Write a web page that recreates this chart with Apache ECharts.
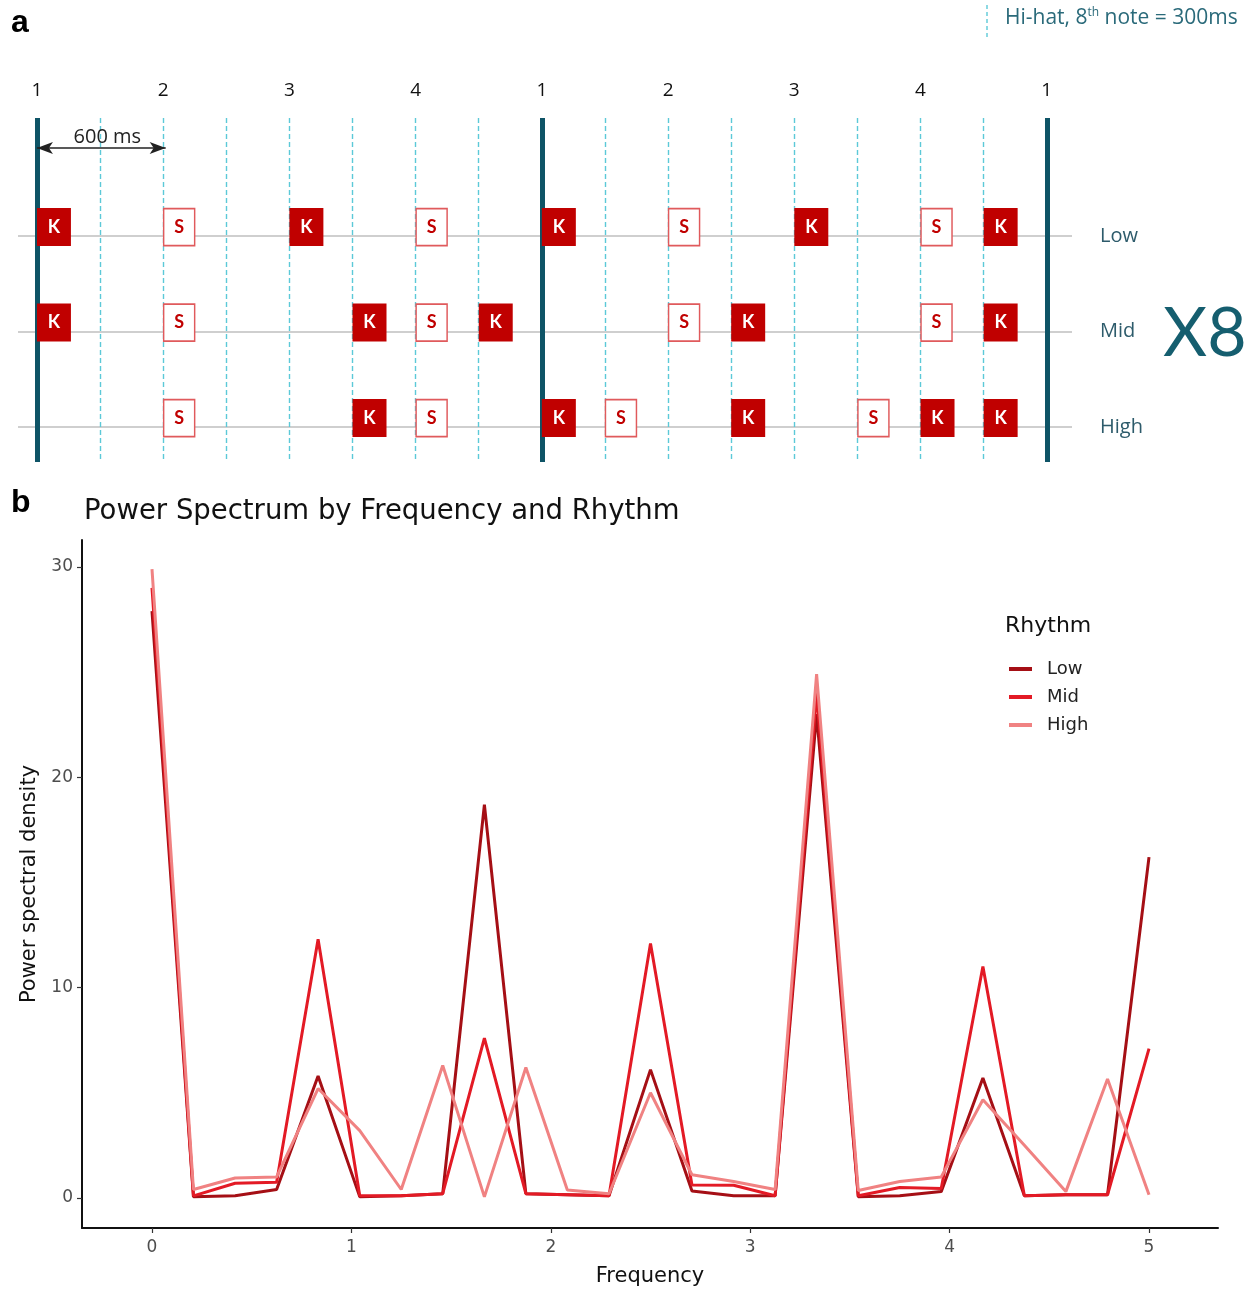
<!DOCTYPE html>
<html>
<head>
<meta charset="utf-8">
<script src="https://cdn.jsdelivr.net/npm/echarts@6/dist/echarts.min.js"></script>
<style>
  html, body { margin: 0; padding: 0; background: #ffffff; }
  #chart { width: 1253px; height: 1289px; }
</style>
</head>
<body>
<div id="chart"></div>
<script>
// ---------- Panel a : rhythm patterns ----------
const rows = ['Low', 'Mid', 'High'];
const beatPositions = [0, 2, 4, 6, 8, 10, 12, 14, 16];
const beatLabels = ['1', '2', '3', '4', '1', '2', '3', '4', '1'];
const hihatEighths = [1, 2, 3, 4, 5, 6, 7, 9, 10, 11, 12, 13, 14, 15];
const barlines = [0, 8, 16];
const lowKicks = [0, 4, 8, 12, 15];
const lowSnares = [2, 6, 10, 14];
const midKicks = [0, 5, 7, 11, 15];
const midSnares = [2, 6, 10, 14];
const highKicks = [5, 8, 11, 14, 15];
const highSnares = [2, 6, 9, 13];

// ---------- Panel b : power spectrum ----------
const frequencies = [0, 0.208, 0.417, 0.625, 0.833, 1.042, 1.25, 1.458, 1.667, 1.875, 2.083, 2.292, 2.5,
  2.708, 2.917, 3.125, 3.333, 3.542, 3.75, 3.958, 4.167, 4.375, 4.583, 4.792, 5];
const psdLow = [27.9, 0.05, 0.1, 0.4, 5.8, 0.05, 0.1, 0.2, 18.7, 0.2, 0.15, 0.1, 6.1,
  0.33, 0.1, 0.1, 23.0, 0.05, 0.1, 0.3, 5.7, 0.1, 0.15, 0.15, 16.2];
const psdMid = [29.0, 0.1, 0.7, 0.75, 12.3, 0.1, 0.1, 0.2, 7.6, 0.2, 0.15, 0.1, 12.1,
  0.62, 0.6, 0.1, 24.0, 0.1, 0.5, 0.45, 11.0, 0.1, 0.15, 0.15, 7.1];
const psdHigh = [29.9, 0.4, 0.95, 1.0, 5.2, 3.2, 0.4, 6.3, 0.05, 6.2, 0.38, 0.2, 5.0,
  1.1, 0.78, 0.4, 24.9, 0.35, 0.78, 1.0, 4.67, 2.5, 0.3, 5.65, 0.15];
const yTicks = [0, 10, 20, 30];
const xTicks = [0, 1, 2, 3, 4, 5];

const rhythmNames = ['Low', 'Mid', 'High'];
const rhythmColors = ['#a50f15', '#e31a25', '#f08282'];

// ---------- build ----------
const kickData = [].concat(
  lowKicks.map(x => [x, 0]), midKicks.map(x => [x, 1]), highKicks.map(x => [x, 2]));
const snareData = [].concat(
  lowSnares.map(x => [x, 0]), midSnares.map(x => [x, 1]), highSnares.map(x => [x, 2]));

const teal = '#0e5466';
const markData = [];
rows.forEach((r, i) => markData.push({ yAxis: i, lineStyle: { color: '#cfcfcf', width: 2, type: 'solid' } }));
hihatEighths.forEach(x => markData.push({ xAxis: x, lineStyle: { color: '#5cc9d8', width: 1.4, type: [5, 3] } }));
barlines.forEach(x => markData.push({ xAxis: x, lineStyle: { color: teal, width: 5, type: 'solid' } }));
markData.push([
  { coord: [0, -0.922], symbol: 'arrow', symbolSize: [9, 16],
    lineStyle: { color: '#222', width: 1.5, type: 'solid' },
    label: { show: true, formatter: '600 ms', position: 'middle', fontSize: 20,
      fontFamily: 'Open Sans', color: '#222', distance: 1, offset: [6, 0] } },
  { coord: [2.04, -0.922], symbol: 'arrow', symbolSize: [9, 16] }
]);

const rhythmData = [psdLow, psdMid, psdHigh];
const lineSeries = rhythmNames.map((n, k) => ({
  name: n, type: 'line', xAxisIndex: 1, yAxisIndex: 1,
  data: frequencies.map((f, i) => [f, rhythmData[k][i]]),
  symbol: 'none', showSymbol: false,
  lineStyle: { width: 3, color: rhythmColors[k] },
  itemStyle: { color: rhythmColors[k] },
  z: 2 + k
}));

const sans = 'DejaVu Sans';
const option = {
  animation: false,
  backgroundColor: '#ffffff',
  title: {
    text: 'Power Spectrum by Frequency and Rhythm',
    left: 79, top: 493,
    textStyle: { fontFamily: sans, fontWeight: 'normal', fontSize: 27.5, color: '#111' }
  },
  legend: {
    data: rhythmNames, orient: 'vertical', left: 1004, top: 655,
    icon: 'rect', itemWidth: 23, itemHeight: 4, itemGap: 10,
    textStyle: { fontFamily: sans, fontSize: 18, color: '#222', padding: [0, 0, 0, 10] },
    selectedMode: false
  },
  grid: [
    { left: 18, right: 181, top: 118, bottom: 827, outerBoundsMode: 'none' },
    { left: 82, right: 35, top: 540, bottom: 61, outerBoundsMode: 'none' }
  ],
  xAxis: [
    {
      gridIndex: 0, type: 'value', position: 'top', min: -0.3, max: 16.4,
      axisLine: { show: false }, axisTick: { show: false }, splitLine: { show: false },
      axisLabel: {
        customValues: beatPositions, margin: 18,
        formatter: v => beatLabels[beatPositions.indexOf(v)],
        fontFamily: 'Open Sans', fontSize: 19, color: '#111'
      }
    },
    {
      gridIndex: 1, type: 'value', min: -0.351, max: 5.346,
      name: 'Frequency', nameLocation: 'middle', nameGap: 38,
      nameTextStyle: { fontFamily: sans, fontSize: 21, color: '#111' },
      axisLine: { show: true, onZero: false, lineStyle: { color: '#111', width: 2 } },
      axisTick: { show: true, customValues: xTicks, length: 5, lineStyle: { color: '#333', width: 1.2 } },
      axisLabel: { customValues: xTicks, margin: 11, fontFamily: sans, fontSize: 17, color: '#4d4d4d' },
      splitLine: { show: false }
    }
  ],
  yAxis: [
    {
      gridIndex: 0, type: 'value', inverse: true, min: -1.236, max: 2.366, position: 'right',
      axisLine: { show: false }, axisTick: { show: false }, splitLine: { show: false },
      axisLabel: {
        customValues: [0, 1, 2], margin: 28, align: 'left',
        formatter: v => rows[v],
        fontFamily: 'Open Sans', fontSize: 20, color: '#2d5b6b'
      }
    },
    {
      gridIndex: 1, type: 'value', min: -1.43, max: 31.28,
      name: 'Power spectral density', nameLocation: 'middle', nameGap: 42, nameRotate: 90,
      nameTextStyle: { fontFamily: sans, fontSize: 21, color: '#111' },
      axisLine: { show: true, onZero: false, lineStyle: { color: '#111', width: 2 } },
      axisTick: { show: true, customValues: yTicks, length: 5, lineStyle: { color: '#333', width: 1.2 } },
      axisLabel: { customValues: yTicks, margin: 9, fontFamily: sans, fontSize: 17, color: '#4d4d4d' },
      splitLine: { show: false }
    }
  ],
  series: [
    {
      name: 'gridlines', type: 'line', xAxisIndex: 0, yAxisIndex: 0, data: [], z: 1, silent: true,
      markLine: { silent: true, symbol: 'none', label: { show: false }, animation: false, data: markData }
    },
    {
      name: 'Kick', type: 'scatter', xAxisIndex: 0, yAxisIndex: 0, data: kickData, z: 5,
      symbol: 'rect', symbolSize: [34, 38], symbolOffset: [17, -9],
      itemStyle: { color: '#c00000', opacity: 1 },
      label: { show: true, position: 'inside', formatter: 'K', color: '#ffffff',
        fontFamily: 'Lato', fontWeight: 'bold', fontSize: 18 }
    },
    {
      name: 'Snare', type: 'scatter', xAxisIndex: 0, yAxisIndex: 0, data: snareData, z: 5,
      symbol: 'rect', symbolSize: [31, 37], symbolOffset: [16, -9],
      itemStyle: { color: '#ffffff', borderColor: '#e05a5c', borderWidth: 1.6, opacity: 1 },
      label: { show: true, position: 'inside', formatter: 'S', color: '#c00000',
        fontFamily: 'Lato', fontWeight: 'bold', fontSize: 18 }
    }
  ].concat(lineSeries),
  graphic: [
    { type: 'text', left: 11, top: 7, style: { text: 'a', font: 'bold 32px "Liberation Sans"', fill: '#000' } },
    { type: 'text', left: 11, top: 487, style: { text: 'b', font: 'bold 32px "Liberation Sans"', fill: '#000' } },
    { type: 'line', shape: { x1: 987, y1: 5, x2: 987, y2: 38 },
      style: { stroke: '#5cc9d8', lineWidth: 1.4, lineDash: [4, 3] } },
    { type: 'text', left: 1005, top: 7, style: {
        text: '{a|Hi-hat, 8}{s|th}{a| note = 300ms}',
        rich: {
          a: { fontFamily: 'Open Sans', fontSize: 21, fill: '#2a6a7a', color: '#2a6a7a' },
          s: { fontFamily: 'Open Sans', fontSize: 12, fill: '#2a6a7a', color: '#2a6a7a', padding: [0, 0, 10, 0] }
        } } },
    { type: 'text', left: 1163, top: 300, style: { text: 'X8', font: '68px Lato', fill: '#155e6f' } },
    { type: 'text', left: 1005, top: 615, style: { text: 'Rhythm', font: '22px "DejaVu Sans"', fill: '#111' } }
  ]
};

const chart = echarts.init(document.getElementById('chart'), null, { renderer: 'canvas' });
chart.setOption(option);
</script>
</body>
</html>
